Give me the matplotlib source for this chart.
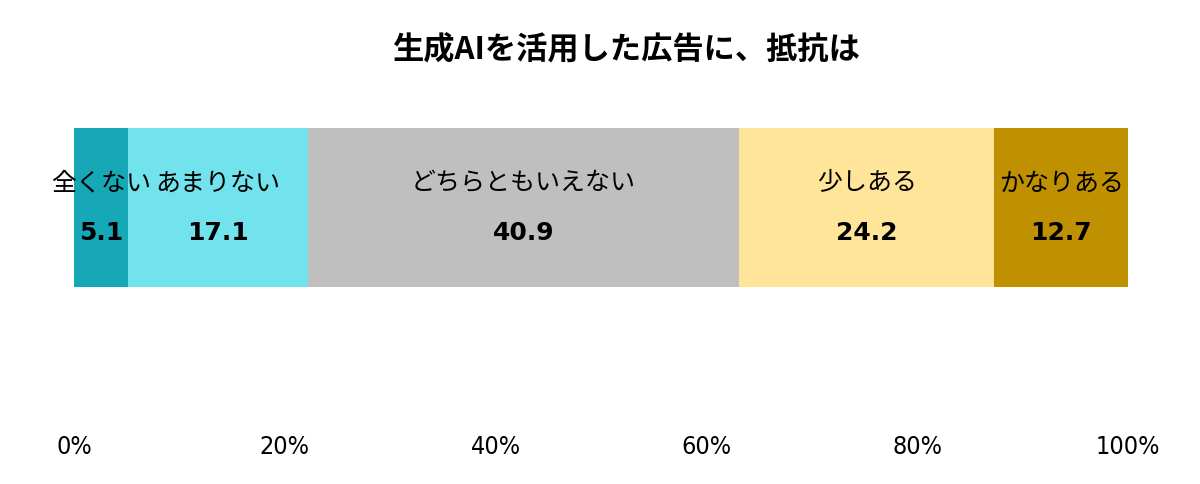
import matplotlib
matplotlib.use("Agg")
import matplotlib.pyplot as plt

plt.rcParams["font.family"] = ["Noto Sans CJK JP", "DejaVu Sans"]

# データ
categories = ["全くない", "あまりない", "どちらともいえない", "少しある", "かなりある"]
values = [5.1, 17.1, 40.9, 24.2, 12.7]
colors = ["#17A8B8", "#72E2EC", "#BFBFBF", "#FFE599", "#BF9000"]
tick_vals = [0, 20, 40, 60, 80, 100]
tick_labels = ["0%", "20%", "40%", "60%", "80%", "100%"]
title = "生成AIを活用した広告に、抵抗は"

fig = plt.figure(figsize=(12, 4.84), dpi=100)
# 軸の位置（帯は上側、目盛りは下側）
ax = fig.add_axes([74 / 1200, 1 - 428 / 484, 1054 / 1200, 300 / 484])

left = 0
for cat, val, col in zip(categories, values, colors):
    ax.barh(0.735, val, left=left, height=0.53, color=col, edgecolor="none")
    cx = left + val / 2
    ax.text(cx, 0.815, cat, ha="center", va="center", fontsize=18, color="black")
    ax.text(cx, 0.65, f"{val:.1f}", ha="center", va="center", fontsize=18,
            fontweight="bold", color="black", family="DejaVu Sans")
    left += val

ax.set_xlim(0, 100)
ax.set_ylim(0, 1)
ax.set_xticks(tick_vals)
ax.set_xticklabels(tick_labels, fontsize=18, family="DejaVu Sans", fontstretch="condensed")
ax.tick_params(axis="x", length=0, pad=5)
ax.set_yticks([])
for s in ax.spines.values():
    s.set_visible(False)

fig.text(626 / 1200, 1 - 50 / 484, title, ha="center", va="center",
         fontsize=22.5, fontweight="bold")

fig.savefig("out.png", dpi=100)
